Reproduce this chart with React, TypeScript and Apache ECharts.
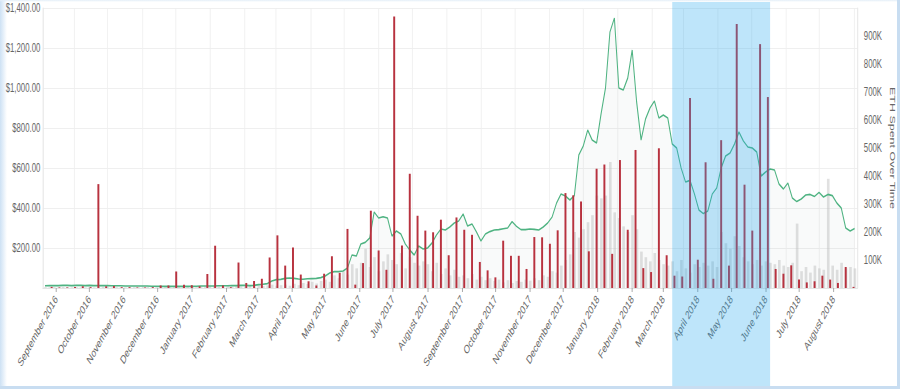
import { useEffect, useRef } from "react";
import * as echarts from "echarts";

// ---- data ----
// Samples every 4 days starting 2016-08-22
const sampleStart = [2016, 7, 22];
const sampleStepDays = 4;
const ethPriceUsd = [
  11, 12, 12, 12, 13, 13, 12, 13, 13, 12, 13,
  12, 12, 12, 12, 11, 11, 11, 10, 10, 10,
  10, 10, 10, 9, 9, 8, 8, 8, 8, 8,
  8, 8, 8, 9, 10, 10, 10, 10, 11, 11,
  11, 12, 12, 13, 13, 12, 13,
  17, 19, 22, 35, 42, 43, 48, 50, 48, 45,
  44, 46, 47, 48, 52, 60, 75, 82, 82, 85,
  100, 165, 160, 220, 228, 250, 380, 350, 356, 350,
  260, 285, 270, 220, 190, 165, 210, 195, 200, 225,
  265, 295, 290, 305, 325, 335, 370, 310, 320, 280,
  235, 270, 282, 290, 292, 296, 300, 332, 308, 292,
  292, 295, 293, 290, 305, 325, 355, 425, 470, 460,
  440, 462, 665, 710, 790, 740, 725, 870, 1000, 1280,
  1350, 1000, 990, 1050, 1190, 930, 740, 845, 900, 935,
  850, 865, 850, 720, 700, 600, 530, 538, 470, 390,
  372, 385, 470, 500, 600, 660, 675, 720, 780, 735,
  705, 700, 680, 560, 580, 595, 590, 520, 495, 525,
  450, 432, 445, 465, 468, 458, 478, 455, 468, 462,
  425, 400, 300, 285, 297,
];
const dailyEthSpentK = [
  3, 2, 3, 2, 4, 3, 2, 3, 2, 2, 3, 2, 3, 4, 3, 2, 3, 2, 2, 3, 3, 2, 3,
  4, 3, 3, 2, 4, 3, 3, 4, 3, 5, 4, 3, 4, 5, 4, 6, 5, 4, 6, 5, 7, 6, 5,
  8, 6, 10, 7, 9, 12, 8, 10,
  12, 8, 15, 10, 18, 14, 22, 16, 25,
  30, 22, 45, 35, 60, 48, 85, 70,
  90, 140, 75, 110, 60, 95, 120,
  100, 85, 125, 70, 110, 90, 80, 95,
  85, 60, 90, 50, 70, 45, 65, 40,
  45, 35, 50, 30, 40, 28, 35, 25,
  30, 20, 28, 18, 25, 22, 30, 26,
  35, 28, 45, 40, 60, 55, 80,
  100, 120, 200, 180, 210, 235, 260, 330, 320, 330, 450, 270,
  250, 220, 200, 260, 210,
  130, 110, 95, 125, 100, 85,
  80, 95, 60, 100, 70, 55, 85, 75, 90,
  80, 95, 75,
  200, 160, 140, 185, 150,
  110, 95, 85, 100, 80, 95, 90, 85, 100,
  80, 75, 90,
  230,
  60, 75, 55, 80, 70, 65,
  390,
  80, 65, 90, 70, 75, 70,
];
// Weekly totals, weeks starting 2016-08-28
const weekStart = [2016, 7, 28];
const weeklyEthSpentK = [
  4, 2, 2, 4, 6, 3, 371, 6, 7, 3,
  3, 2, 2, 3, 9, 9, 59, 12, 10, 6,
  50, 151, 9, 3, 91, 18, 25, 33, 109, 188,
  80, 145, 48, 24, 9, 51, 113, 54, 211, 12,
  89, 276, 134, 65, 970, 152, 408, 258, 205, 199,
  244, 117, 252, 208, 190, 93, 63, 38, 169, 115,
  115, 68, 182, 181, 158, 206, 339, 331, 309, 131,
  426, 441, 122, 457, 208, 493, 71, 57, 499, 117,
  44, 41, 679, 101, 449, 33, 528, 80, 943, 369,
  205, 871, 682, 68, 51, 81, 30, 20, 24, 44,
  30, 18, 75, 4,
];
const axisRange = [[2016, 7, 21], [2018, 7, 21]];
const highlightRange = [[2018, 2, 9], [2018, 5, 5]];
const rightAxisName = "ETH Spent Over Time";

const SCALE_X = 0.65;
const W = Math.round(900 / SCALE_X);
const H = 389;
const FONT = "'Liberation Sans', Arial, Helvetica, sans-serif";

const dateAt = (base: number[], addDays: number) =>
  new Date(base[0], base[1], base[2] + addDays).getTime();

export default function App() {
  const ref = useRef<HTMLDivElement>(null);
  useEffect(() => {
    if (!ref.current) return;
    const chart = echarts.init(ref.current, undefined, { renderer: "svg", width: W, height: H });
    const priceData = ethPriceUsd.map((v, i) => [dateAt(sampleStart, i * sampleStepDays), v]);
    const greyData = dailyEthSpentK.map((v, i) => [dateAt(sampleStart, i * sampleStepDays), v]);
    const weekData = weeklyEthSpentK.map((v, i) => [dateAt(weekStart, i * 7), v]);
    const xMin = dateAt(axisRange[0], 0);
    const xMax = dateAt(axisRange[1], 0);
    const day = 86400000;
    chart.setOption({
      animation: false,
      textStyle: { fontFamily: FONT },
      grid: { left: 66, right: 66, top: 8, bottom: 101, outerBoundsMode: "none" },
      xAxis: [
        {
          type: "time",
          min: xMin,
          max: xMax,
          minInterval: 28 * day,
          maxInterval: 31 * day,
          axisLine: { show: true, lineStyle: { color: "#e2e2e2" } },
          axisTick: { show: true, length: 4, lineStyle: { color: "#999" } },
          splitLine: { show: false },
          axisLabel: {
            rotate: 50,
            margin: 9,
            color: "#666",
            fontSize: 12,
            fontFamily: FONT,
            formatter: "{MMMM} {yyyy}",
            hideOverlap: false,
          },
        },
        {
          type: "time",
          position: "top",
          min: xMin - 17 * day,
          max: xMax - 17 * day,
          minInterval: 28 * day,
          maxInterval: 31 * day,
          axisLine: { show: false },
          axisTick: { show: false },
          axisLabel: { show: false },
          splitLine: { show: true, lineStyle: { color: "#eeeeee" } },
        },
      ],
      yAxis: [
        {
          type: "value",
          min: 0,
          max: 1400,
          interval: 200,
          position: "left",
          axisLine: { show: true, lineStyle: { color: "#e6e6e6" } },
          axisTick: { show: false },
          splitLine: { show: true, lineStyle: { color: "#ececec" } },
          axisLabel: {
            showMinLabel: false,
            margin: 4,
            color: "#666",
            fontSize: 12,
            fontFamily: FONT,
            formatter: (v: number) =>
              "$" + v.toLocaleString("en-US", { minimumFractionDigits: 2, maximumFractionDigits: 2 }),
          },
        },
        {
          type: "value",
          min: 0,
          max: 1000,
          interval: 100,
          position: "right",
          axisLine: { show: true, lineStyle: { color: "#e6e6e6" } },
          axisTick: { show: false },
          splitLine: { show: false },
          axisLabel: {
            showMinLabel: false,
            showMaxLabel: false,
            margin: 10,
            color: "#666",
            fontSize: 12,
            fontFamily: FONT,
            formatter: (v: number) => `${v}K`,
          },
          name: rightAxisName,
          nameLocation: "middle",
          nameRotate: -90,
          nameGap: 44,
          nameTextStyle: { color: "#666", fontSize: 12.5, fontFamily: FONT },
        },
      ],
      series: [
        {
          name: "Daily ETH spent",
          type: "bar",
          xAxisIndex: 0,
          yAxisIndex: 1,
          data: greyData,
          barWidth: 4,
          barGap: "-100%",
          itemStyle: { color: "rgba(195,195,195,0.5)" },
          silent: true,
          z: 1,
        },
        {
          name: "ETH price",
          type: "line",
          xAxisIndex: 0,
          yAxisIndex: 0,
          data: priceData,
          showSymbol: false,
          symbol: "none",
          lineStyle: { color: "#4fb382", width: 1.6 },
          areaStyle: { color: "rgba(110,150,130,0.06)" },
          silent: true,
          z: 2,
        },
        {
          name: "Weekly ETH spent",
          type: "bar",
          xAxisIndex: 0,
          yAxisIndex: 1,
          data: weekData,
          barWidth: 3,
          barGap: "-100%",
          itemStyle: { color: "#b8323f" },
          silent: true,
          z: 3,
        },
        {
          name: "Highlight",
          type: "line",
          xAxisIndex: 0,
          yAxisIndex: 0,
          data: [],
          z: 20,
          silent: true,
          markArea: {
            silent: true,
            z: 20,
            itemStyle: { color: "rgba(40,170,240,0.3)" },
            data: [
              [
                { xAxis: dateAt(highlightRange[0], 0), y: 2 },
                { xAxis: dateAt(highlightRange[1], 0), y: 386 },
              ],
            ],
          },
        },
      ],
    });
    return () => chart.dispose();
  }, []);

  return (
    <div
      style={{
        position: "fixed",
        left: 0,
        top: 0,
        width: 900,
        height: 389,
        overflow: "hidden",
        background: "#fff",
      }}
    >
      <div
        ref={ref}
        style={{
          position: "absolute",
          left: 0,
          top: 0,
          width: W,
          height: H,
          transform: `scaleX(${SCALE_X})`,
          transformOrigin: "0 0",
        }}
      />
      <div style={{ position: "absolute", left: 0, top: 0, width: 7, height: 389, background: "linear-gradient(to right, #cde1f4, rgba(255,255,255,0))", pointerEvents: "none" }} />
      <div style={{ position: "absolute", left: 0, top: 0, width: 900, height: 2, background: "linear-gradient(to bottom, #e4eef8, rgba(255,255,255,0))", pointerEvents: "none" }} />
      <div style={{ position: "absolute", right: 0, top: 0, width: 3, height: 389, background: "#c8ddf1", pointerEvents: "none" }} />
      <div style={{ position: "absolute", left: 0, bottom: 0, width: 900, height: 3, background: "#c8ddf1", pointerEvents: "none" }} />
    </div>
  );
}
